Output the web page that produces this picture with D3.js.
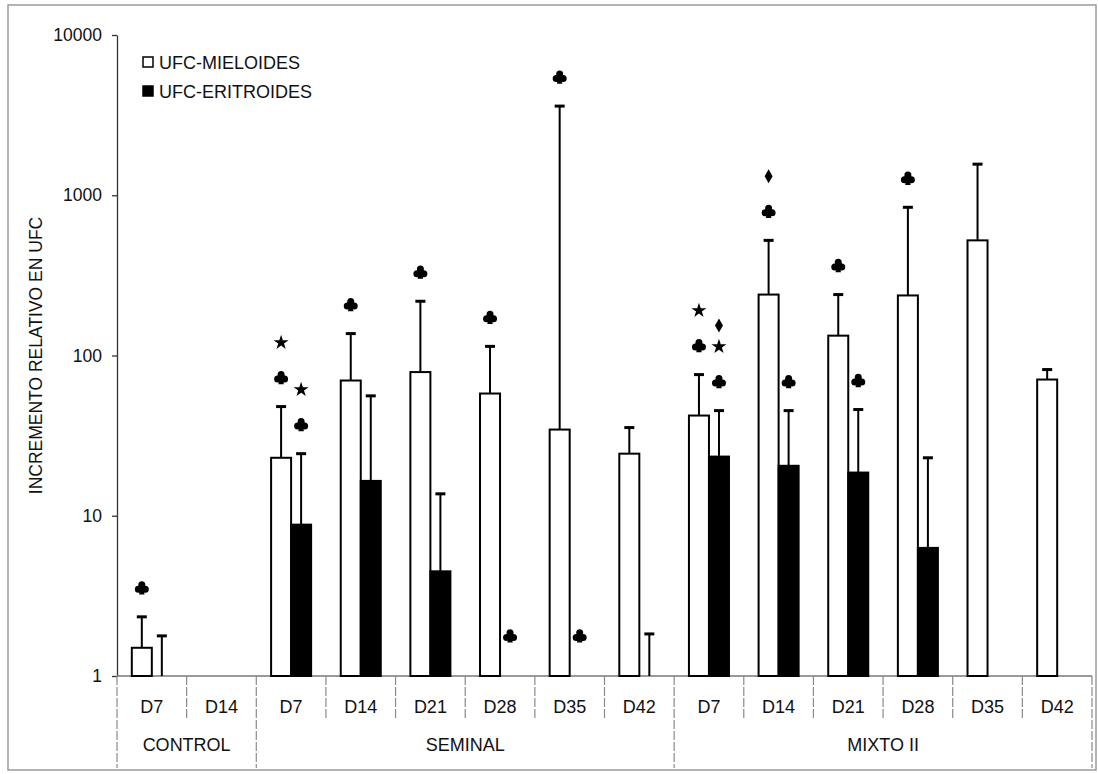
<!DOCTYPE html>
<html>
<head>
<meta charset="utf-8">
<script src="https://cdn.jsdelivr.net/npm/d3@7"></script>
<style>
  html, body { margin: 0; padding: 0; background: #fff; }
  svg { display: block; }
  text { font-family: "Liberation Sans", Arial, Helvetica, sans-serif; fill: #111; }
</style>
</head>
<body>
<svg id="chart" width="1098" height="774"></svg>
<script>
// Categories along the x axis (culture day) and their treatment groups
const days = ["D7", "D14", "D7", "D14", "D21", "D28", "D35", "D42", "D7", "D14", "D21", "D28", "D35", "D42"];
const groups = ["CONTROL", "SEMINAL", "MIXTO II"];
const groupSizes = [2, 6, 6];

// Series names
const seriesNames = ["UFC-MIELOIDES", "UFC-ERITROIDES"];

// Relative increment (mean) and upper end of the error bar; null = not measured
const mieloides    = [1.5, null, 23.0, 69.8, 78.8, 57.9, 34.5, 24.4, 42.2, 240, 133, 237, 523, 70.8];
const mieloidesErr = [2.34, null, 48, 137, 218, 114, 3600, 35.5, 76, 523, 240, 841, 1563, 81.7];
const eritroides    = [1.0, null, 8.8, 16.5, 4.5, null, null, 1.0, 23.4, 20.5, 18.6, 6.3, null, null];
const eritroidesErr = [1.78, null, 24.4, 56, 13.7, null, null, 1.83, 45.3, 45.3, 46, 23, null, null];

// Y axis tick values
const yTicks = [1, 10, 100, 1000, 10000];

// Significance marks: category index, series index, symbols from bottom to top
const markCategory = [0, 2, 2, 3, 4, 5, 5, 6, 6, 8, 8, 9, 9, 10, 10, 11];
const markSeries   = [0, 0, 1, 0, 0, 0, 1, 0, 1, 0, 1, 0, 1, 0, 1, 0];
const markSymbols  = [
  ["club"], ["club", "star"], ["club", "star"], ["club"], ["club"], ["club"], ["club"],
  ["club"], ["club"], ["club", "star"], ["club", "star", "diamond"], ["club", "diamond"],
  ["club"], ["club"], ["club"], ["club"]
];

const svg = d3.select("#chart");

// Outer frame
svg.append("rect")
  .attr("x", 8).attr("y", 5).attr("width", 1088).attr("height", 765)
  .attr("fill", "none").attr("stroke", "#9a9a9a").attr("stroke-width", 1.5);

const x = d3.scaleBand().domain(d3.range(days.length)).range([117, 1092]).paddingInner(0).paddingOuter(0);
const xs = d3.scaleBand().domain([0, 1]).range([0, x.bandwidth()]).paddingInner(0).paddingOuter(0.74);
const y = d3.scaleLog().domain([1, 10000]).range([676, 35]);
const base = y(1);

// Y axis
const yAxis = svg.append("g")
  .attr("transform", "translate(117,0)")
  .call(d3.axisLeft(y).tickValues(yTicks).tickFormat(d3.format("d")).tickSize(5).tickSizeOuter(0).tickPadding(10));
yAxis.select(".domain").attr("stroke", "#333").attr("stroke-width", 1.3);
yAxis.selectAll(".tick line").attr("stroke", "#333").attr("stroke-width", 1.3);
yAxis.selectAll(".tick text").attr("font-size", "17.5px").attr("fill", "#111")
  .style("font-family", "'Liberation Sans', Arial, sans-serif");

// Y axis title
svg.append("text")
  .attr("transform", `translate(42,${(y(1) + y(10000)) / 2}) rotate(-90)`)
  .attr("text-anchor", "middle")
  .attr("font-size", "17.5px")
  .text("INCREMENTO RELATIVO EN UFC");

// X axis baseline
svg.append("line")
  .attr("x1", 117).attr("x2", 1092).attr("y1", base).attr("y2", base)
  .attr("stroke", "#777").attr("stroke-width", 1.3);

// Category dividers; group boundaries run further down
const groupStarts = [0];
groupSizes.forEach((n, i) => groupStarts.push(groupStarts[i] + n));
const boundaries = d3.range(days.length + 1).map(k => (k < days.length ? x(k) : x.range()[1]));
svg.append("g").selectAll("line")
  .data(boundaries)
  .join("line")
  .attr("x1", d => d).attr("x2", d => d)
  .attr("y1", base)
  .attr("y2", (d, k) => groupStarts.includes(k) ? 768 : 718)
  .attr("stroke", "#8a8a8a").attr("stroke-width", 1.2)
  .attr("stroke-dasharray", "9,2");

// Day labels
svg.append("g").selectAll("text")
  .data(days)
  .join("text")
  .attr("x", (d, i) => x(i) + x.bandwidth() / 2)
  .attr("y", 713)
  .attr("text-anchor", "middle")
  .attr("font-size", "18px")
  .text(d => d);

// Group labels
svg.append("g").selectAll("text")
  .data(groups)
  .join("text")
  .attr("x", (d, i) => (boundaries[groupStarts[i]] + boundaries[groupStarts[i + 1]]) / 2)
  .attr("y", 751)
  .attr("text-anchor", "middle")
  .attr("font-size", "18px")
  .text(d => d);

// Bars and error bars
const seriesValues = [mieloides, eritroides];
const seriesErrs = [mieloidesErr, eritroidesErr];
const seriesFill = ["#fff", "#000"];
const barData = [];
seriesValues.forEach((vals, s) => {
  vals.forEach((v, i) => {
    if (v != null) barData.push({ i, s, v, e: seriesErrs[s][i] });
  });
});

const cx = d => x(d.i) + xs(d.s) + xs.bandwidth() / 2;

// error bars drawn first so bars cover the stem base
const eb = svg.append("g").selectAll("g").data(barData.filter(d => d.e != null)).join("g");
eb.append("line")
  .attr("x1", cx).attr("x2", cx)
  .attr("y1", d => y(d.v)).attr("y2", d => y(d.e))
  .attr("stroke", "#000").attr("stroke-width", 2);
eb.append("line")
  .attr("x1", d => cx(d) - 5).attr("x2", d => cx(d) + 5)
  .attr("y1", d => y(d.e)).attr("y2", d => y(d.e))
  .attr("stroke", "#000").attr("stroke-width", 3);

svg.append("g").selectAll("rect")
  .data(barData.filter(d => base - y(d.v) > 0.5))
  .join("rect")
  .attr("x", d => x(d.i) + xs(d.s))
  .attr("y", d => y(d.v))
  .attr("width", xs.bandwidth())
  .attr("height", d => base - y(d.v))
  .attr("fill", d => seriesFill[d.s])
  .attr("stroke", "#000")
  .attr("stroke-width", 2);

// Symbol shapes: club (three lobes, a filled centre and a stem), star, elongated diamond
function clubPath() {
  const p = d3.path();
  const r = 3.5;
  [[0, -3.2], [-3.5, 1.4], [3.5, 1.4]].forEach(([a, b]) => {
    p.moveTo(a + r, b);
    p.arc(a, b, r, 0, 2 * Math.PI);
  });
  // centre patch and stem, wound the same way as the lobes
  p.moveTo(0, -2);
  p.lineTo(3, 1);
  p.lineTo(1, 1);
  p.lineTo(2.8, 6.6);
  p.lineTo(-2.8, 6.6);
  p.lineTo(-1, 1);
  p.lineTo(-3, 1);
  p.closePath();
  return p.toString();
}
const shapes = {
  club: clubPath(),
  star: d3.symbol().type(d3.symbolStar).size(70)(),
  diamond: "M0,-7L4,0L0,7L-4,0Z"
};

// Significance symbols stacked above the error bar
const marksG = svg.append("g");
markCategory.forEach((ci, m) => {
  const s = markSeries[m];
  const v = seriesValues[s][ci];
  const e = seriesErrs[s][ci];
  const top = e != null ? y(e) : (v != null ? y(v) : base);
  let yy = top - (e == null && v == null ? 40 : 29);
  const px = x(ci) + xs(s) + xs.bandwidth() / 2;
  markSymbols[m].forEach((sym, k) => {
    if (k > 0) {
      const prev = markSymbols[m][k - 1];
      yy -= (prev === "star" && sym === "diamond") ? 21 : 35;
    }
    marksG.append("path")
      .attr("d", shapes[sym])
      .attr("transform", `translate(${px},${yy})`)
      .attr("fill", "#000")
      .attr("fill-rule", "nonzero");
  });
});

// Legend
const legend = svg.append("g");
seriesNames.forEach((name, i) => {
  legend.append("rect")
    .attr("x", 143).attr("y", 57 + i * 29)
    .attr("width", 10).attr("height", 10)
    .attr("fill", seriesFill[i]).attr("stroke", "#000").attr("stroke-width", 1.5);
  legend.append("text")
    .attr("x", 159).attr("y", 69 + i * 29)
    .attr("font-size", "18px")
    .text(name);
});
</script>
</body>
</html>
